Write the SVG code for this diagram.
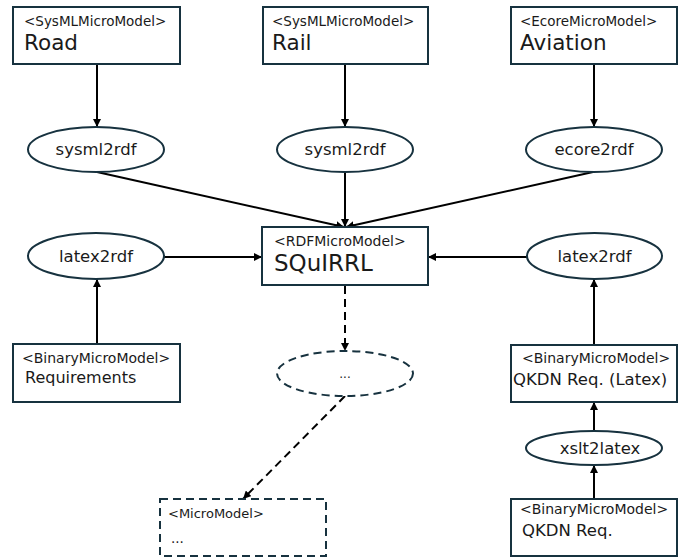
<svg xmlns="http://www.w3.org/2000/svg" width="683" height="557" viewBox="0 0 683 557">
  <defs>
    <marker id="arrow" viewBox="0 0 10 10" refX="10" refY="5" markerWidth="8" markerHeight="8" markerUnits="userSpaceOnUse" orient="auto">
      <path d="M0,0 L10,5 L0,10 z" fill="#000"/>
    </marker>
  </defs>
  <style>
    .box { fill: #fff; stroke: #17323f; stroke-width: 2; }
    .oval { fill: #fff; stroke: #17323f; stroke-width: 2; }
    .dashed { stroke-dasharray: 8 5; }
    .stereo { font-family: "DejaVu Sans", sans-serif; font-size: 13.5px; fill: #1a1a1a; }
    .title { font-family: "DejaVu Sans", sans-serif; font-size: 21.5px; fill: #1a1a1a; }
    .name { font-family: "DejaVu Sans", sans-serif; font-size: 16.5px; fill: #1a1a1a; }
    .label { font-family: "DejaVu Sans", sans-serif; font-size: 16.5px; fill: #1a1a1a; text-anchor: middle; }
    .edge { fill: none; stroke: #000; stroke-width: 2; marker-end: url(#arrow); }
  </style>

  <rect width="683" height="557" fill="#fff"/>

  <!-- connectors -->
  <g id="connectors">
    <line class="edge" x1="97" y1="64" x2="97" y2="127"/>
    <line class="edge" x1="345" y1="64" x2="345" y2="127"/>
    <line class="edge" x1="594" y1="64" x2="594" y2="127"/>
    <line class="edge" x1="97" y1="172" x2="344" y2="227"/>
    <line class="edge" x1="345" y1="172" x2="345" y2="227"/>
    <line class="edge" x1="593" y1="172" x2="346" y2="227"/>
    <line class="edge" x1="164" y1="257" x2="262" y2="257"/>
    <line class="edge" x1="527" y1="257" x2="428" y2="257"/>
    <line class="edge" x1="97" y1="344" x2="97" y2="279"/>
    <line class="edge" x1="594" y1="345" x2="594" y2="279"/>
    <line class="edge" x1="594" y1="431" x2="594" y2="402"/>
    <line class="edge" x1="594" y1="499" x2="594" y2="465"/>
    <line class="edge dashed" x1="345" y1="286" x2="345" y2="351"/>
    <line class="edge dashed" x1="345" y1="396" x2="243" y2="499"/>
  </g>

  <!-- source models -->
  <g id="road">
    <rect class="box" x="13" y="7" width="167" height="57"/>
    <text class="stereo" x="24" y="26">&lt;SysMLMicroModel&gt;</text>
    <text class="title" x="24" y="50">Road</text>
  </g>
  <g id="rail">
    <rect class="box" x="263" y="7" width="165" height="57"/>
    <text class="stereo" x="272" y="26">&lt;SysMLMicroModel&gt;</text>
    <text class="title" x="272" y="50">Rail</text>
  </g>
  <g id="aviation">
    <rect class="box" x="511" y="7" width="166" height="57"/>
    <text class="stereo" x="520" y="26">&lt;EcoreMicroModel&gt;</text>
    <text class="title" x="520" y="50">Aviation</text>
  </g>

  <!-- transformations -->
  <g id="sysml2rdf-road">
    <ellipse class="oval" cx="96" cy="149.5" rx="68" ry="22.5"/>
    <text class="label" x="96" y="155">sysml2rdf</text>
  </g>
  <g id="sysml2rdf-rail">
    <ellipse class="oval" cx="345" cy="149.5" rx="68" ry="22.5"/>
    <text class="label" x="345" y="155">sysml2rdf</text>
  </g>
  <g id="ecore2rdf">
    <ellipse class="oval" cx="594" cy="149.5" rx="68" ry="22.5"/>
    <text class="label" x="594" y="155">ecore2rdf</text>
  </g>
  <g id="latex2rdf-left">
    <ellipse class="oval" cx="96" cy="256" rx="68" ry="23"/>
    <text class="label" x="96" y="262">latex2rdf</text>
  </g>
  <g id="latex2rdf-right">
    <ellipse class="oval" cx="594.5" cy="256" rx="67.5" ry="23"/>
    <text class="label" x="594.5" y="262">latex2rdf</text>
  </g>

  <!-- central model -->
  <g id="squirrl">
    <rect class="box" x="262" y="227" width="166" height="58"/>
    <text class="stereo" x="274" y="246" style="font-size:14px">&lt;RDFMicroModel&gt;</text>
    <text class="title" x="274" y="271" style="font-size:23px">SQuIRRL</text>
  </g>

  <!-- binary inputs -->
  <g id="requirements">
    <rect class="box" x="13" y="344" width="167" height="58"/>
    <text class="stereo" x="22" y="363" style="font-size:14px">&lt;BinaryMicroModel&gt;</text>
    <text class="name" x="25" y="383" style="font-size:16px">Requirements</text>
  </g>
  <g id="qkdn-latex">
    <rect class="box" x="511" y="345" width="166" height="57"/>
    <text class="stereo" x="522" y="363" style="font-size:14px">&lt;BinaryMicroModel&gt;</text>
    <text class="name" x="513" y="385">QKDN Req. (Latex)</text>
  </g>
  <g id="xslt2latex">
    <ellipse class="oval" cx="594" cy="448" rx="68" ry="17"/>
    <text class="label" x="600" y="454">xslt2latex</text>
  </g>
  <g id="qkdn">
    <rect class="box" x="511" y="499" width="166" height="57"/>
    <text class="stereo" x="520" y="514" style="font-size:14px">&lt;BinaryMicroModel&gt;</text>
    <text class="name" x="522" y="536">QKDN Req.</text>
  </g>

  <!-- further, unspecified steps -->
  <g id="more-transformations">
    <ellipse class="oval dashed" cx="345" cy="373.5" rx="68" ry="22.5"/>
    <text class="label" x="345" y="378" style="font-size:12px">...</text>
  </g>
  <g id="micromodel">
    <rect class="box dashed" x="160" y="499" width="166" height="57"/>
    <text class="stereo" x="168" y="518" style="font-size:13px">&lt;MicroModel&gt;</text>
    <text class="stereo" x="171" y="543">...</text>
  </g>
</svg>
